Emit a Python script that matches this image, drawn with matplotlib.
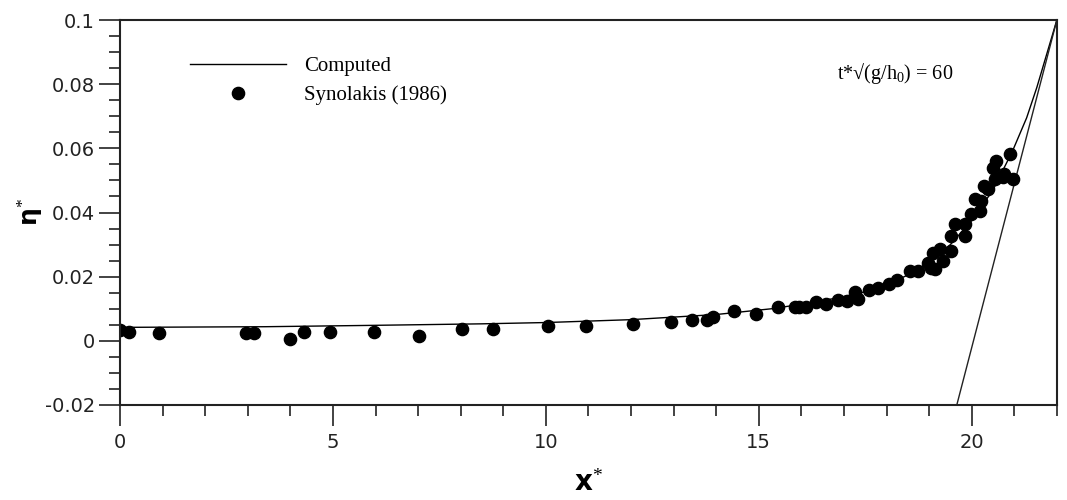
import numpy as np
import matplotlib
matplotlib.use("Agg")
import matplotlib.pyplot as plt
from matplotlib.ticker import MultipleLocator

# measured run-up profile (Synolakis 1986)
x_exp = [0.0, 0.22, 0.92, 2.96, 3.15, 4.0, 4.32, 4.93, 5.96, 7.03, 8.03, 8.75,
         10.05, 10.95, 12.05, 12.93, 13.43, 13.79, 13.93, 14.42, 14.93, 15.45,
         15.85, 15.95, 16.1, 16.35, 16.59, 16.86, 17.06, 17.25, 17.34, 17.58,
         17.8, 18.05, 18.25, 18.54, 18.74, 18.97, 19.05, 19.1, 19.13, 19.25,
         19.33, 19.52, 19.52, 19.6, 19.84, 19.84, 19.99, 20.07, 20.19, 20.23,
         20.3, 20.38, 20.5, 20.54, 20.58, 20.73, 20.77, 20.89, 20.97]
eta_exp = [0.0034, 0.0028, 0.0024, 0.0024, 0.0024, 0.0005, 0.0029, 0.0029, 0.0029,
           0.0015, 0.0038, 0.0037, 0.0047, 0.0047, 0.0052, 0.0059, 0.0065, 0.0065,
           0.0073, 0.0094, 0.0085, 0.0106, 0.0106, 0.0106, 0.0106, 0.0122, 0.0114,
           0.0127, 0.0125, 0.0152, 0.0129, 0.0160, 0.0164, 0.0178, 0.0190, 0.0219,
           0.0218, 0.0244, 0.0228, 0.0275, 0.0223, 0.0286, 0.0249, 0.0281, 0.0327,
           0.0364, 0.0327, 0.0364, 0.0395, 0.0442, 0.0405, 0.0436, 0.0483, 0.0473,
           0.0540, 0.0504, 0.0561, 0.0510, 0.0520, 0.0582, 0.0504]

# computed free surface
x_comp = [0.0, 3.4, 5.8, 8.5, 10.0, 12.0, 14.0, 15.3, 16.3, 17.0, 17.5, 18.0,
          18.5, 19.0, 19.5, 20.0, 20.5, 20.96, 21.29, 21.53, 22.0]
eta_comp = [0.0042, 0.0044, 0.0048, 0.0053, 0.0057, 0.0066, 0.0082, 0.0100, 0.0120,
            0.0138, 0.0153, 0.0175, 0.0205, 0.0245, 0.0300, 0.0375, 0.0470, 0.0592,
            0.0695, 0.0790, 0.1000]

# sloping beach
x_bed = [19.65, 22.0]
z_bed = [-0.02, 0.1]

plt.rcParams['mathtext.fontset'] = 'custom'
plt.rcParams['mathtext.rm'] = 'Liberation Serif'
plt.rcParams['mathtext.it'] = 'Liberation Serif:italic'
plt.rcParams['mathtext.bf'] = 'DejaVu Sans:bold'

fig = plt.figure(figsize=(10.67, 5), dpi=100)
ax = fig.add_axes([0.1125, 0.19, 0.878, 0.77])

ax.plot(x_comp, eta_comp, color='black', lw=1.0, label='Computed')
ax.plot(x_bed, z_bed, color='#222222', lw=1.0)
ax.plot(x_exp, eta_exp, 'o', color='black', ms=8.8, mec='black',
        label='Synolakis (1986)')

ax.set_xlim(0, 22)
ax.set_ylim(-0.02, 0.1)
ax.xaxis.set_major_locator(MultipleLocator(5))
ax.xaxis.set_minor_locator(MultipleLocator(1))
ax.yaxis.set_major_locator(MultipleLocator(0.02))
ax.yaxis.set_minor_locator(MultipleLocator(0.005))
ax.set_yticks([-0.02, 0, 0.02, 0.04, 0.06, 0.08, 0.1])
ax.set_yticklabels(['-0.02', '0', '0.02', '0.04', '0.06', '0.08', '0.1'])
ax.tick_params(which='major', direction='out', length=15, width=1.2,
               labelsize=14, pad=3, colors='#222222')
ax.tick_params(which='minor', direction='out', length=8, width=1.2,
               colors='#222222')
ax.tick_params(axis='x', which='major', pad=5)
for s in ax.spines.values():
    s.set_linewidth(1.5)
    s.set_color('#222222')

ax.set_xlabel(r'$\mathbf{x}^{*}$', fontsize=20, labelpad=12)
ax.set_ylabel(r'$\mathbf{\eta}^{*}$', fontsize=18, labelpad=0)

leg = ax.legend(loc='upper left', bbox_to_anchor=(0.075, 0.905), frameon=False,
                prop={'family': 'Liberation Serif', 'size': 15},
                handlelength=4.6, handletextpad=0.85, labelspacing=0.45,
                borderpad=0, borderaxespad=0, numpoints=1)

ax.text(0.765, 0.86, r't*√(g/h$_{0}$) = 60', transform=ax.transAxes,
        family=['Liberation Serif', 'DejaVu Serif'], fontsize=14.5, va='center')

fig.savefig('out.png', dpi=100)
